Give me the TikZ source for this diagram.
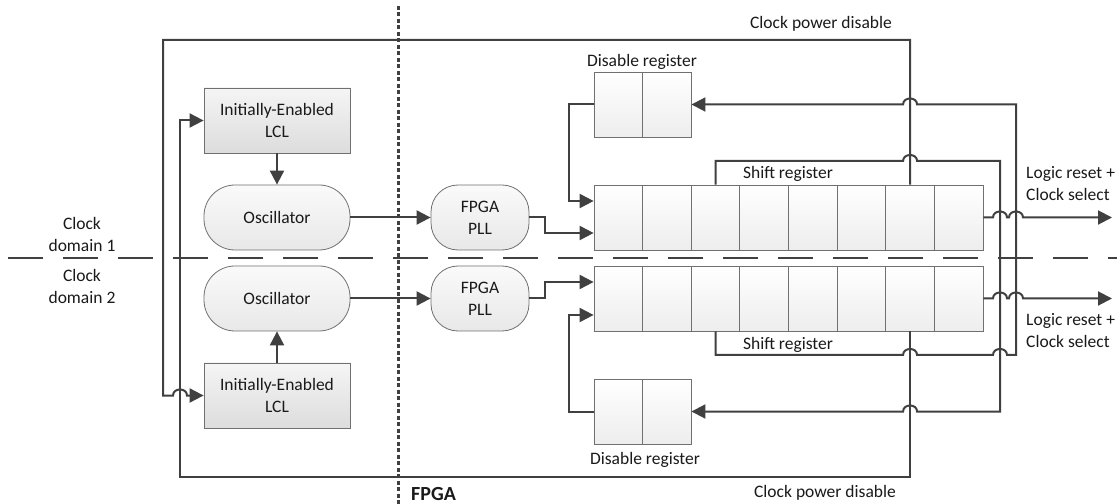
\documentclass[tikz,border=0pt]{standalone}
\usepackage{fontspec}
\setmainfont{Carlito}
\usetikzlibrary{arrows.meta,calc}
\definecolor{wire}{HTML}{404040}
\definecolor{edge}{HTML}{707070}
\definecolor{txt}{HTML}{1A1A1A}
\begin{document}
\begin{tikzpicture}[x=1bp,y=-1bp,
  font=\fontsize{17.5bp}{22bp}\selectfont, text=txt,
  wire/.style={draw=wire,line width=2bp},
  arr/.style={wire,-{Triangle[length=14bp,width=14bp]}},
  lclbox/.style={draw=edge,line width=0.8bp,top color=gray!8,bottom color=gray!27,minimum width=146bp,minimum height=65bp,inner sep=0pt,align=center},
  oscbox/.style={draw=edge,line width=0.8bp,top color=gray!4,bottom color=gray!18,minimum width=146bp,minimum height=65bp,inner sep=0pt,align=center,rounded corners=31bp},
  pllbox/.style={draw=edge,line width=0.8bp,top color=gray!4,bottom color=gray!18,minimum width=98bp,minimum height=65bp,inner sep=0pt,align=center,rounded corners=27bp},
  cell/.style={draw=edge,line width=0.8bp,top color=white,bottom color=gray!14,minimum width=48.6bp,minimum height=65bp,inner sep=0pt},
  lbl/.style={inner sep=0pt,align=center},
  hopr/.style 2 args={insert path={-- ({#1-7},#2) .. controls +(0,-8) and +(0,-8) .. ({#1+7},#2)}},
  hopl/.style 2 args={insert path={-- ({#1+7},#2) .. controls +(0,-8) and +(0,-8) .. ({#1-7},#2)}}
]
\useasboundingbox (0,0) rectangle (1117,504);
\fill[white] (0,0) rectangle (1117,504);

% domain separator and FPGA boundary
\draw[wire,dash pattern=on 35bp off 20bp] (8,258) -- (1117,258);
\draw[wire,line width=3bp,dash pattern=on 4bp off 2.5bp] (398,6) -- (398,504);

% blocks
\node[lclbox] (lcl1) at (277,120.5) {Initially-Enabled\\LCL};
\node[oscbox] (osc1) at (277,217.5) {Oscillator};
\node[oscbox] (osc2) at (277,298.5) {Oscillator};
\node[lclbox] (lcl2) at (277,395.5) {Initially-Enabled\\LCL};
\node[pllbox] (pll1) at (480,217.5) {FPGA\\PLL};
\node[pllbox] (pll2) at (480,298.5) {FPGA\\PLL};

\foreach \i in {1,...,8} {
  \node[cell] (sa\i) at ({594+48.625*(\i-0.5)},217.5) {};
  \node[cell] (sb\i) at ({594+48.625*(\i-0.5)},298.5) {};
}
\foreach \i in {1,2} {
  \node[cell] (da\i) at ({594+48.5*(\i-0.5)},104.5) {};
  \node[cell] (db\i) at ({594+48.5*(\i-0.5)},411.5) {};
}

\coordinate (out1) at (1112,217.5);
\coordinate (out2) at (1112,298.5);

% clock domain 1 wiring
\draw[arr] (lcl1.south) -- (osc1.north);
\draw[arr] (osc1.east) -- (pll1.west);
\draw[arr] (pll1.east) -- (545,217.5) -- (545,233) -- (sa1.west |- 0,233);
\draw[arr] (da1.west) -- (569,104.5) -- (569,201) -- (sa1.west |- 0,201);
\draw[arr] (sa8.east) [hopr={1000}{217.5}] [hopr={1016}{217.5}] -- (out1);

% clock domain 2 wiring
\draw[arr] (lcl2.north) -- (osc2.south);
\draw[arr] (osc2.east) -- (pll2.west);
\draw[arr] (pll2.east) -- (545,298.5) -- (545,282) -- (sb1.west |- 0,282);
\draw[arr] (db1.west) -- (569,411.5) -- (569,315) -- (sb1.west |- 0,315);
\draw[arr] (sb8.east) [hopr={1000}{298.5}] [hopr={1016}{298.5}] -- (out2);

% clock power disable (cross-coupled)
\draw[arr] (sa7.north) -- (sa7.north |- 0,40) -- (163,40) -- (163,395.5) [hopr={180}{395.5}] -- (lcl2.west);
\draw[arr] (sb7.south) -- (sb7.south |- 0,477) -- (180,477) -- (180,120.5) -- (lcl1.west);

% disable register feedback
\draw[arr] (sa3.north) -- (sa3.north |- 0,161) [hopr={910.06}{161}] -- (1000,161) -- (1000,411.5) [hopl={910.06}{411.5}] -- (db2.east);
\draw[arr] (sb3.south) -- (sb3.south |- 0,355) [hopr={910.06}{355}] [hopr={1000}{355}] -- (1016,355) -- (1016,104.5) [hopl={910.06}{104.5}] -- (da2.east);

% labels
\node[lbl] (cpd1) at (821,24) {Clock power disable};
\node[lbl] (cpd2) at (825,493) {Clock power disable};
\node[lbl] (dl1) at (642,62) {Disable register};
\node[lbl] (dl2) at (645,460) {Disable register};
\node[lbl] (sl1) at (788,174) {Shift register};
\node[lbl] (sl2) at (788,345) {Shift register};
\node[lbl,anchor=west,align=left] (lr1) at (1026,184) {Logic reset +\\Clock select};
\node[lbl,anchor=west,align=left] (lr2) at (1026,331) {Logic reset +\\Clock select};
\node[lbl] (cd1) at (82,234) {Clock\\domain 1};
\node[lbl] (cd2) at (82,286) {Clock\\domain 2};
\node[lbl,anchor=west,font=\bfseries\fontsize{20bp}{24bp}\selectfont] (fpga) at (411,494) {FPGA};
\end{tikzpicture}
\end{document}
